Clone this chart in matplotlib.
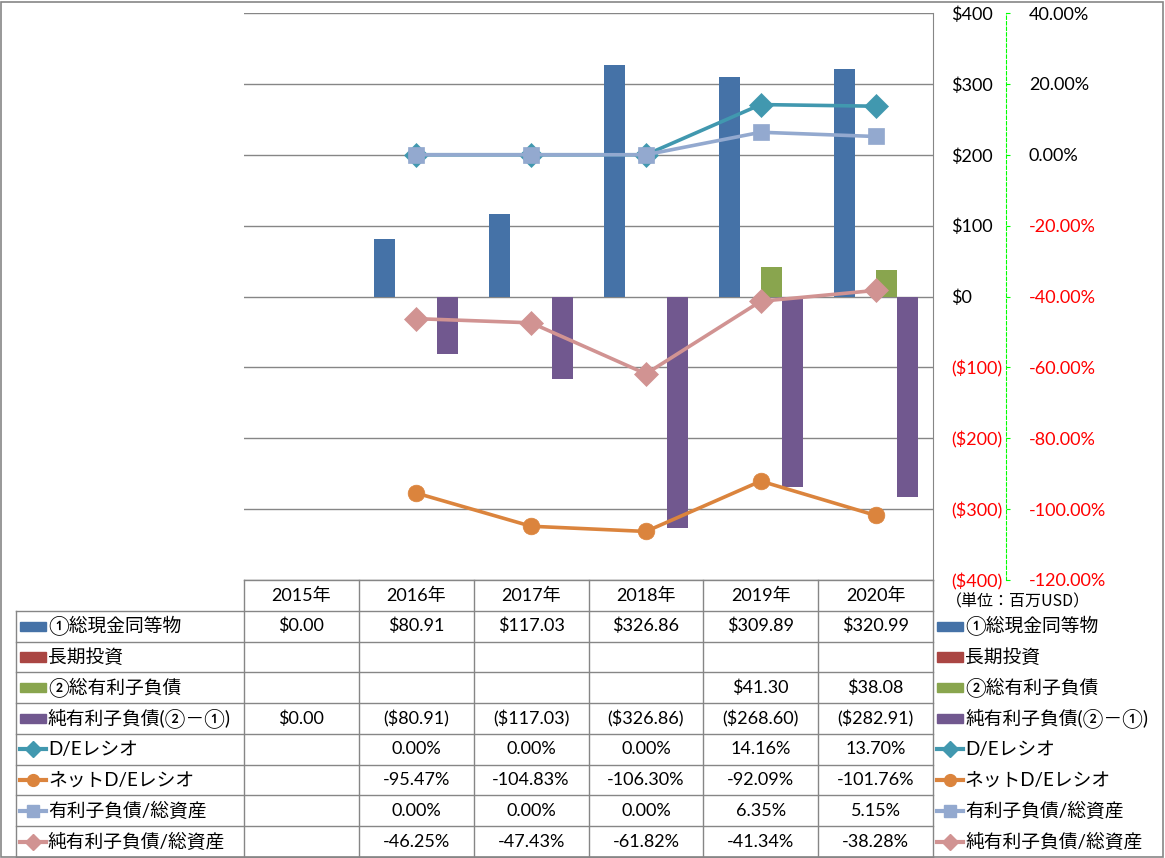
import numpy as np
import matplotlib
matplotlib.use('Agg')
from matplotlib import pyplot as plt
from matplotlib.patches import Rectangle

plt.rcParams['font.family'] = ['Lato', 'Noto Sans CJK JP', 'DejaVu Sans']

# ---- data (millions USD / percent) ----
years = ['2015年', '2016年', '2017年', '2018年', '2019年', '2020年']
cash = [0.00, 80.91, 117.03, 326.86, 309.89, 320.99]
long_inv = [None, None, None, None, None, None]
debt = [None, None, None, None, 41.30, 38.08]
net_debt = [0.00, -80.91, -117.03, -326.86, -268.60, -282.91]

de_ratio = [None, 0.00, 0.00, 0.00, 14.16, 13.70]
net_de_ratio = [None, -95.47, -104.83, -106.30, -92.09, -101.76]
debt_assets = [None, 0.00, 0.00, 0.00, 6.35, 5.15]
net_debt_assets = [None, -46.25, -47.43, -61.82, -41.34, -38.28]

bar_names = ['①総現金同等物', '長期投資', '②総有利子負債', '純有利子負債(②－①)']
line_names = ['D/Eレシオ', 'ネットD/Eレシオ', '有利子負債/総資産', '純有利子負債/総資産']

left_ticks = [400, 300, 200, 100, 0, -100, -200, -300, -400]
right_ticks = [40, 20, 0, -20, -40, -60, -80, -100, -120]

bar_colors = ['#4572A7', '#AA4643', '#89A54E', '#71588F']
line_colors = ['#4198AF', '#DB843D', '#93A9CF', '#D19392']
line_markers = ['D', 'o', 's', 'D']


def money(v):
    if v is None:
        return ''
    return f'${v:,.2f}' if v >= 0 else f'(${-v:,.2f})'


def pct(v):
    return '' if v is None else f'{v:.2f}%'


def arr(vals):
    return np.array([np.nan if v is None else v for v in vals], dtype=float)


W, H = 1165, 858
fig = plt.figure(figsize=(W / 100, H / 100), dpi=100)


def fx(p):
    return p / W


def fy(p):
    return 1 - p / H


x = np.arange(len(years))
col_px = (933 - 244) / len(years)


def cx(p):
    # pixel x -> category units of the plot / table
    return (p - 244) / col_px - 0.5


# ---- main chart ----
ax = fig.add_axes([fx(244), fy(580), (933 - 244) / W, (580 - 13) / H])
ax.set_xlim(-0.5, len(years) - 0.5)
ax.set_ylim(-400, 400)
ax.set_axisbelow(True)

bw = 21 / col_px
bar_series = [cash, long_inv, debt, net_debt]
for k, (vals, col) in enumerate(zip(bar_series, bar_colors)):
    ax.bar(x + (k - 1.5) * bw, arr(vals), bw, color=col, zorder=2)

ax2 = ax.twinx()
ax2.set_ylim(-120, 40)

ax.yaxis.tick_right()
ax.set_yticks(left_ticks, [money(v).replace('.00', '') for v in left_ticks])
ax.yaxis.grid(True, color='#868686', lw=1)
ax.tick_params(axis='y', length=0, pad=13, labelsize=13)
ax.set_xticks([])
for s in ['top', 'left', 'bottom']:
    ax.spines[s].set_visible(False)
ax.spines['right'].set_color('#868686')

ratio_series = [de_ratio, net_de_ratio, debt_assets, net_debt_assets]
for vals, col, mk in zip(ratio_series, line_colors, line_markers):
    ax2.plot(x, arr(vals), color=col, lw=2.6, marker=mk, ms=12 if mk != 'D' else 12,
             mec=col, mew=0.5, zorder=3)
ax2.set_yticks(right_ticks, [pct(v) for v in right_ticks])
ax2.tick_params(axis='y', length=3, color='#00FF00', pad=13.5, labelsize=13)
ax2.spines['right'].set_position(('outward', 52.5))
ax2.spines['right'].set_color('#00FF00')
ax2.spines['right'].set_linestyle((0, (3, 2)))
for s in ['top', 'left', 'bottom']:
    ax2.spines[s].set_visible(False)

# negative values in red on both scales
for a, ticks in [(ax, left_ticks), (ax2, right_ticks)]:
    for t, v in zip(a.yaxis.get_major_ticks(), ticks):
        c = 'red' if v < 0 else 'black'
        t.label1.set_color(c)
        t.label2.set_color(c)

fig.text(fx(946), fy(602), '（単位：百万USD）', fontsize=11.5, va='center', ha='left',
         family=['Noto Sans CJK JP'])

# ---- data table ----
n_rows = 9
tab = fig.add_axes([fx(244), fy(857), (933 - 244) / W, (857 - 580) / H])
tab.set_xlim(-0.5, len(years) - 0.5)
tab.set_ylim(n_rows, 0)
tab.axis('off')

grid_kw = dict(color='#868686', lw=1, clip_on=False)
x_lab = cx(16)
tab.plot([-0.5, len(years) - 0.5], [0, 0], **grid_kw)
for r in range(1, n_rows + 1):
    tab.plot([x_lab, len(years) - 0.5], [r, r], **grid_kw)
for c in range(len(years) + 1):
    tab.plot([c - 0.5, c - 0.5], [0, n_rows], **grid_kw)
tab.plot([x_lab, x_lab], [1, n_rows], **grid_kw)

fs = 13
for i, yl in enumerate(years):
    tab.text(i, 0.5, yl, ha='center', va='center', fontsize=fs)

rows_text = [[money(v) for v in s] for s in bar_series] + \
            [[pct(v) for v in s] for s in ratio_series]
for r, cells in enumerate(rows_text, start=1):
    for i, s in enumerate(cells):
        tab.text(i, r + 0.5, s, ha='center', va='center', fontsize=fs)

names = bar_names + line_names


def draw_key(r, x0, x1, xt):
    yc = r + 0.5
    name = names[r - 1]
    if r <= 4:
        tab.add_patch(Rectangle((x0, yc - 0.15), x1 - x0, 0.3, color=bar_colors[r - 1],
                                clip_on=False))
    else:
        col = line_colors[r - 5]
        mk = line_markers[r - 5]
        tab.plot([x0, x1], [yc, yc], color=col, lw=3, clip_on=False)
        tab.plot([(x0 + x1) / 2], [yc], color=col, marker=mk, ms=8.5 if mk != 'D' else 8,
                 clip_on=False)
    tab.text(xt, yc, name, ha='left', va='center', fontsize=13.5, clip_on=False)


for r in range(1, n_rows):
    draw_key(r, cx(20), cx(46), cx(48))
    draw_key(r, cx(937), cx(963), cx(965))

fig.add_artist(Rectangle((0.0005, 0.001), 0.998, 0.997, transform=fig.transFigure,
                         fill=False, edgecolor='#868686', lw=1.2))

fig.savefig('out.png', dpi=100)
